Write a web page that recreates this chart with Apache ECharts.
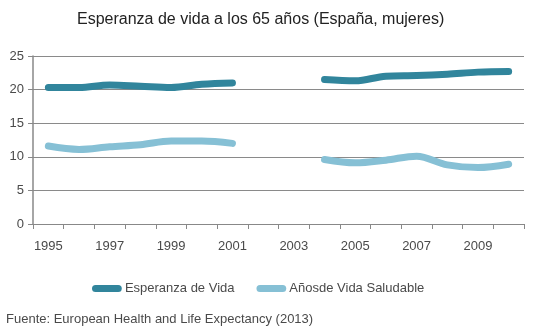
<!DOCTYPE html>
<html>
<head>
<meta charset="utf-8">
<script src="https://cdn.jsdelivr.net/npm/echarts@6/dist/echarts.min.js"></script>
<style>
  html, body { margin: 0; padding: 0; background: #fff; }
  #chart { width: 540px; height: 333px; }
</style>
</head>
<body>
<div id="chart"></div>
<script>
// Years on the category axis
const years = ['1995','1996','1997','1998','1999','2000','2001','2002','2003','2004','2005','2006','2007','2008','2009','2010'];
// Life expectancy at 65 (women, Spain); no data for 2002-2003
const esperanzaVida = [20.3, 20.3, 20.7, 20.5, 20.3, 20.8, 21.0, null, null, 21.5, 21.3, 22.0, 22.1, 22.3, 22.6, 22.7];
// Healthy life years at 65
const aniosSaludables = [11.6, 11.1, 11.5, 11.8, 12.35, 12.35, 12.0, null, null, 9.6, 9.1, 9.5, 10.1, 8.8, 8.4, 8.9];
// Y-axis ticks
const yTicks = [0, 5, 10, 15, 20, 25];

const darkColor = '#31859C';
const lightColor = '#86C0D5';
const textColor = '#4a4a4a';
const pillIcon = 'path://M4,0 H30 A4,4 0 0 1 30,8 H4 A4,4 0 0 1 4,0 Z';

const chart = echarts.init(document.getElementById('chart'));
chart.setOption({
  animation: false,
  title: {
    text: 'Esperanza de vida a los 65 años (España, mujeres)',
    left: 72,
    top: 7,
    textStyle: { fontFamily: 'Liberation Sans', fontSize: 16, fontWeight: 'normal', color: '#222' }
  },
  grid: { left: 33, right: 16, top: 56, bottom: 109 },
  legend: {
    top: 277,
    left: 87,
    itemWidth: 34,
    itemHeight: 7,
    itemGap: 22,
    icon: pillIcon,
    textStyle: { fontFamily: 'Liberation Sans', fontSize: 13, color: textColor, padding: [0, 0, 0, -4] },
    data: [
      { name: 'Esperanza de Vida', itemStyle: { color: darkColor } },
      { name: 'Añosde Vida Saludable', itemStyle: { color: lightColor } }
    ]
  },
  graphic: [{
    type: 'text',
    left: 6,
    top: 313,
    style: { text: 'Fuente: European Health and Life Expectancy (2013)', font: '13px "Liberation Sans"', fill: textColor }
  }],
  xAxis: {
    type: 'category',
    data: years,
    boundaryGap: true,
    axisLine: { lineStyle: { color: '#888', width: 1 } },
    axisTick: { show: true, interval: 0, length: 5, lineStyle: { color: '#888' } },
    axisLabel: { interval: 1, margin: 16, fontFamily: 'Liberation Sans', fontSize: 13, color: textColor }
  },
  yAxis: {
    type: 'value',
    min: yTicks[0],
    max: yTicks[yTicks.length - 1],
    interval: yTicks[1] - yTicks[0],
    axisLine: { show: true, lineStyle: { color: '#888', width: 1.5 } },
    axisTick: { show: true, length: 5, lineStyle: { color: '#888' } },
    axisLabel: { margin: 9, fontFamily: 'Liberation Sans', fontSize: 13, color: textColor },
    splitLine: { lineStyle: { color: '#8a8a8a', width: 1 } }
  },
  series: [
    {
      name: 'Esperanza de Vida',
      type: 'line',
      data: esperanzaVida,
      smooth: 0.35,
      showSymbol: false,
      connectNulls: false,
      lineStyle: { color: darkColor, width: 7, cap: 'round', join: 'round' },
      itemStyle: { color: darkColor }
    },
    {
      name: 'Añosde Vida Saludable',
      type: 'line',
      data: aniosSaludables,
      smooth: 0.35,
      showSymbol: false,
      connectNulls: false,
      lineStyle: { color: lightColor, width: 7, cap: 'round', join: 'round' },
      itemStyle: { color: lightColor }
    }
  ]
});
</script>
</body>
</html>
